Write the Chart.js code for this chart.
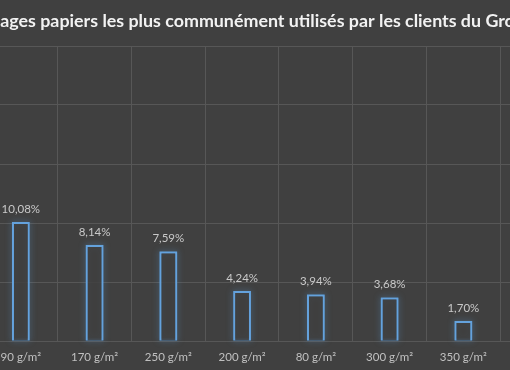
<!DOCTYPE html>
<html>
<head>
<meta charset="utf-8">
<script src="https://cdn.jsdelivr.net/npm/chart.js@4.4.1/dist/chart.umd.min.js"></script>
<style>
  html, body { margin: 0; padding: 0; background: #404040; overflow: hidden; width: 510px; height: 370px; }
  #wrap { position: absolute; top: 0; }
</style>
</head>
<body>
<div id="wrap"><canvas id="myChart"></canvas></div>
<script>
var titre = 'Grammages papiers les plus communément utilisés par les clients du Groupe';
var grammages = ['90 g/m²', '170 g/m²', '250 g/m²', '200 g/m²', '80 g/m²', '300 g/m²', '350 g/m²', ''];
var pourcentages = [10.08, 8.14, 7.59, 4.24, 3.94, 3.68, 1.70, null];
var yTicks = [0, 5, 10, 15, 20, 25];

// the picture is a crop of a wider chart: size the title so the visible part fills the width
var m = document.createElement('canvas').getContext('2d');
m.font = 'bold 100px Lato';
var visible = titre.slice(5, titre.length - 3);
var tSize = 1.012 * 100 * 509 / m.measureText(visible).width;
m.font = 'bold ' + tSize + 'px Lato';
var gauche = m.measureText(titre.slice(0, 5)).width;

var catW = 73.7;
var plotLeft = -16.3;
var axeW = gauche + plotLeft;
var W = Math.round(gauche + plotLeft + catW * grammages.length);

var wrap = document.getElementById('wrap');
wrap.style.left = (-gauche) + 'px';
var ctx = document.getElementById('myChart');
ctx.width = W;
ctx.height = 370;

// blue glow around each bar, drawn under the bars
var halo = {
  id: 'halo',
  beforeDatasetsDraw: function (chart) {
    var c = chart.ctx;
    var meta = chart.getDatasetMeta(0);
    c.save();
    c.shadowColor = 'rgba(91,155,213,0.85)';
    c.shadowBlur = 6;
    c.strokeStyle = 'rgba(91,155,213,0.7)';
    c.lineWidth = 2;
    meta.data.forEach(function (bar, i) {
      if (pourcentages[i] == null) return;
      var w = bar.width;
      c.strokeRect(bar.x - w / 2 + 1, bar.y + 1, w - 2, bar.base - bar.y - 2);
    });
    c.restore();
  }
};

var etiquettes = {
  id: 'etiquettes',
  afterDatasetsDraw: function (chart) {
    var c = chart.ctx;
    var meta = chart.getDatasetMeta(0);
    c.save();
    c.font = '11.5px Lato';
    c.fillStyle = '#c9c9c9';
    c.textAlign = 'center';
    c.textBaseline = 'middle';
    meta.data.forEach(function (bar, i) {
      if (pourcentages[i] == null) return;
      c.fillText(pourcentages[i].toFixed(2).replace('.', ',') + '%', bar.x, bar.y - 13);
    });
    c.restore();
  }
};

var myChart = new Chart(ctx, {
  type: 'bar',
  data: {
    labels: grammages,
    datasets: [
      {
        data: pourcentages,
        backgroundColor: 'rgba(64,64,64,0.85)',
        borderColor: '#64a2dd',
        borderWidth: 2,
        barPercentage: 0.24,
        categoryPercentage: 1
      }
    ]
  },
  options: {
    responsive: false,
    animation: false,
    layout: { padding: { top: 0, bottom: 7, left: 0, right: 0 } },
    plugins: {
      legend: { display: false },
      tooltip: { enabled: false },
      title: {
        display: true,
        text: titre,
        align: 'start',
        color: '#f2f2f2',
        font: { family: 'Lato', weight: 'bold', size: tSize },
        padding: { top: 11, bottom: 35 - 1.2 * tSize }
      }
    },
    scales: {
      x: {
        grid: { color: '#575757', drawTicks: false },
        border: { display: false },
        ticks: { color: '#c0c0c0', padding: 9, maxRotation: 0, font: { family: 'Lato', size: 11.5 } },
        afterFit: function (axis) { axis.height = 22; }
      },
      y: {
        min: yTicks[0],
        max: yTicks[yTicks.length - 1],
        grid: { color: '#575757', drawTicks: false },
        border: { display: false },
        ticks: { display: false, stepSize: yTicks[1] - yTicks[0] },
        afterFit: function (axis) { axis.width = axeW; }
      }
    }
  },
  plugins: [halo, etiquettes]
});
</script>
</body>
</html>
